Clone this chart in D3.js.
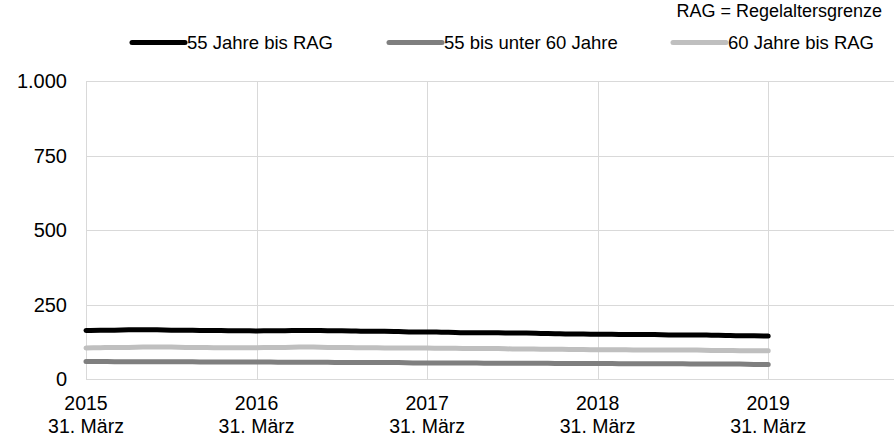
<!DOCTYPE html>
<html>
<head>
<meta charset="utf-8">
<script src="https://cdn.jsdelivr.net/npm/d3@7"></script>
<style>
  body { margin: 0; background: #fff; }
  svg { display: block; font-family: "Liberation Sans", Arial, sans-serif; }
</style>
</head>
<body>
<script>
// Monatswerte, 31. März 2015 bis 31. März 2019 (in Tausend)
var serien = ["55 Jahre bis RAG", "55 bis unter 60 Jahre", "60 Jahre bis RAG"];
var farben = ["#000000", "#7f7f7f", "#bfbfbf"];

var werte55bisRAG = [163, 164, 164, 165, 165, 165, 164, 164, 163, 163, 162, 162,
  161, 162, 162, 163, 163, 162, 162, 161, 160, 160, 159, 158,
  158, 157, 156, 155, 155, 155, 154, 154, 153, 152, 151, 151,
  150, 150, 149, 149, 149, 148, 148, 148, 147, 146, 145, 145,
  144];
var werte55bis60 = [59, 59, 58, 58, 58, 58, 58, 58, 57, 57, 57, 57,
  57, 57, 56, 56, 56, 56, 55, 55, 55, 55, 55, 54,
  54, 54, 54, 54, 53, 53, 53, 53, 53, 52, 52, 52,
  52, 52, 51, 51, 51, 51, 51, 50, 50, 50, 50, 49,
  49];
var werte60bisRAG = [104, 105, 106, 106, 107, 107, 107, 106, 106, 105, 105, 105,
  105, 106, 106, 107, 107, 106, 106, 105, 105, 104, 104, 104,
  104, 103, 103, 102, 102, 102, 101, 101, 100, 100, 99, 99,
  98, 98, 98, 97, 97, 97, 97, 97, 96, 96, 95, 95,
  95];

var jahre = ["2015", "2016", "2017", "2018", "2019"];
var yTicks = [0, 250, 500, 750, 1000];

var width = 894, height = 442;
var margin = { top: 81, right: 0, bottom: 63, left: 86 };

var svg = d3.select("body").append("svg")
  .attr("width", width)
  .attr("height", height);

// Skalen: Monatsindex auf x, Anzahl auf y
var xScale = d3.scaleLinear()
  .domain([0, 56.85])
  .range([margin.left, width - margin.right]);

var yScale = d3.scaleLinear()
  .domain([0, 1000])
  .range([height - margin.bottom, margin.top]);

var fmt = d3.formatLocale({ decimal: ",", thousands: ".", grouping: [3], currency: ["", " €"] }).format(",");

// Gitterlinien horizontal
svg.append("g")
  .selectAll("line")
  .data(yTicks)
  .enter()
  .append("line")
  .attr("x1", margin.left)
  .attr("x2", width - margin.right)
  .attr("y1", function (d) { return Math.round(yScale(d)) + 0.5; })
  .attr("y2", function (d) { return Math.round(yScale(d)) + 0.5; })
  .style("stroke", "#d9d9d9")
  .style("stroke-width", 1);

// Gitterlinien vertikal (jeweils 31. März)
svg.append("g")
  .selectAll("line")
  .data(jahre)
  .enter()
  .append("line")
  .attr("x1", function (d, i) { return Math.round(xScale(i * 12)) + 0.5; })
  .attr("x2", function (d, i) { return Math.round(xScale(i * 12)) + 0.5; })
  .attr("y1", yScale(1000))
  .attr("y2", yScale(0))
  .style("stroke", "#d9d9d9")
  .style("stroke-width", 1);

// y-Achse Beschriftung
svg.append("g")
  .selectAll("text")
  .data(yTicks)
  .enter()
  .append("text")
  .attr("x", 67)
  .attr("y", function (d) { return yScale(d); })
  .attr("dy", "0.35em")
  .attr("text-anchor", "end")
  .style("font-size", "20px")
  .style("fill", "#000")
  .text(function (d) { return fmt(d); });

// x-Achse Beschriftung
var xl = svg.append("g")
  .selectAll("text")
  .data(jahre)
  .enter()
  .append("text")
  .attr("text-anchor", "middle")
  .style("font-size", "19.5px")
  .style("fill", "#000");

xl.append("tspan")
  .attr("x", function (d, i) { return xScale(i * 12); })
  .attr("y", 410)
  .text(function (d) { return d; });

xl.append("tspan")
  .attr("x", function (d, i) { return xScale(i * 12); })
  .attr("y", 433)
  .text("31. März");

// Linien
var line = d3.line()
  .x(function (d, i) { return xScale(i); })
  .y(function (d) { return yScale(d); })
  .curve(d3.curveMonotoneX);

var alleWerte = [werte55bisRAG, werte55bis60, werte60bisRAG];
var zeichenfolge = [2, 1, 0];

zeichenfolge.forEach(function (k) {
  svg.append("path")
    .datum(alleWerte[k])
    .attr("d", line)
    .style("fill", "none")
    .style("stroke", farben[k])
    .style("stroke-width", 5)
    .style("stroke-linecap", "round")
    .style("stroke-linejoin", "round");
});

// Legende
var legendX = [132, 389, 673];
var leg = svg.append("g")
  .selectAll("g")
  .data(serien)
  .enter()
  .append("g")
  .attr("transform", function (d, i) { return "translate(" + legendX[i] + ",42.5)"; });

leg.append("line")
  .attr("x1", 0)
  .attr("x2", 53)
  .style("stroke", function (d, i) { return farben[i]; })
  .style("stroke-width", 5)
  .style("stroke-linecap", "round");

leg.append("text")
  .attr("x", 55)
  .attr("dy", "0.35em")
  .style("font-size", "18.5px")
  .style("fill", "#000")
  .text(function (d) { return d; });

svg.append("text")
  .attr("x", 882)
  .attr("y", 11)
  .attr("dy", "0.35em")
  .attr("text-anchor", "end")
  .style("font-size", "18px")
  .style("fill", "#000")
  .text("RAG = Regelaltersgrenze");
</script>
</body>
</html>
